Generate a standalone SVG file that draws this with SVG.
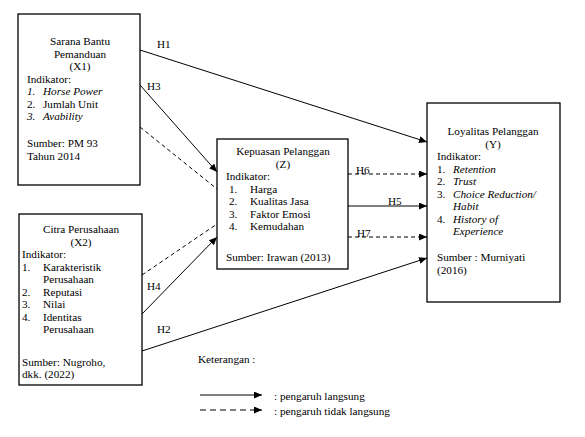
<svg xmlns="http://www.w3.org/2000/svg" width="585" height="437" viewBox="0 0 585 437">
<style>
text{font-family:"Liberation Serif","Times New Roman",serif;font-size:11.2px;fill:#000}
.c{text-anchor:middle}
.i{font-style:italic}
.box{fill:#fff;stroke:#000;stroke-width:1.3}
.ln{stroke:#000;stroke-width:1;fill:none}
.d{stroke-dasharray:4,3}
.ld{stroke-dasharray:6,4}
</style>
<defs>
<marker id="ah" markerUnits="userSpaceOnUse" markerWidth="9" markerHeight="7" refX="8" refY="3.5" orient="auto">
<path d="M0,0 L8,3.5 L0,7 Z" fill="#000"/>
</marker>
</defs>
<rect width="585" height="437" fill="#fff"/>

<g id="connectors">
<line class="ln" x1="140" y1="50" x2="427" y2="142" marker-end="url(#ah)"/>
<line class="ln" x1="140" y1="85" x2="217" y2="172" marker-end="url(#ah)"/>
<line class="ln d" x1="140" y1="127" x2="217" y2="189"/>
<line class="ln" x1="142" y1="314" x2="217" y2="237" marker-end="url(#ah)"/>
<line class="ln d" x1="142" y1="275" x2="217" y2="224"/>
<line class="ln" x1="142" y1="351" x2="427" y2="258" marker-end="url(#ah)"/>
<line class="ln d" x1="348" y1="174" x2="427" y2="174" marker-end="url(#ah)"/>
<line class="ln" x1="348" y1="206" x2="427" y2="206" marker-end="url(#ah)"/>
<line class="ln d" x1="348" y1="237" x2="427" y2="237" marker-end="url(#ah)"/>
<text x="157" y="48">H1</text>
<text x="147" y="90">H3</text>
<text x="147" y="290">H4</text>
<text x="157" y="333">H2</text>
<text x="356" y="174">H6</text>
<text x="388" y="205">H5</text>
<text x="357" y="237">H7</text>
</g>

<g id="x1">
<rect class="box" x="18" y="14" width="122" height="171"/>
<text class="c" x="80" y="45">Sarana Bantu</text>
<text class="c" x="80" y="57.5">Pemanduan</text>
<text class="c" x="80" y="70">(X1)</text>
<text x="27" y="82.5">Indikator:</text>
<text class="i" x="27" y="95">1.</text><text class="i" x="43" y="95">Horse Power</text>
<text x="27" y="107.5">2.</text><text x="43" y="107.5">Jumlah Unit</text>
<text class="i" x="27" y="120">3.</text><text class="i" x="43" y="120">Avability</text>
<text x="27" y="147">Sumber: PM 93</text>
<text x="27" y="159.5">Tahun 2014</text>
</g>

<g id="x2">
<rect class="box" x="19" y="214" width="123" height="171"/>
<text class="c" x="81" y="233">Citra Perusahaan</text>
<text class="c" x="81" y="245.5">(X2)</text>
<text x="22" y="258">Indikator:</text>
<text x="22" y="270.5">1.</text><text x="43" y="270.5">Karakteristik</text>
<text x="43" y="283">Perusahaan</text>
<text x="22" y="295.5">2.</text><text x="43" y="295.5">Reputasi</text>
<text x="22" y="308">3.</text><text x="43" y="308">Nilai</text>
<text x="22" y="320.5">4.</text><text x="43" y="320.5">Identitas</text>
<text x="43" y="333">Perusahaan</text>
<text x="22" y="365.5">Sumber: Nugroho,</text>
<text x="22" y="378">dkk. (2022)</text>
</g>

<g id="z">
<rect class="box" x="217" y="139" width="131" height="130"/>
<text class="c" x="283" y="155">Kepuasan Pelanggan</text>
<text class="c" x="283" y="167.5">(Z)</text>
<text x="226" y="180">Indikator:</text>
<text x="229" y="192.5">1.</text><text x="250" y="192.5">Harga</text>
<text x="229" y="205">2.</text><text x="250" y="205">Kualitas Jasa</text>
<text x="229" y="217.5">3.</text><text x="250" y="217.5">Faktor Emosi</text>
<text x="229" y="230">4.</text><text x="250" y="230">Kemudahan</text>
<text x="226" y="261">Sumber: Irawan  (2013)</text>
</g>

<g id="y">
<rect class="box" x="427" y="103" width="133" height="199"/>
<text class="c" x="493" y="135">Loyalitas Pelanggan</text>
<text class="c" x="493" y="147.5">(Y)</text>
<text x="437" y="160">Indikator:</text>
<text x="437" y="172.5">1.</text><text class="i" x="453" y="172.5">Retention</text>
<text x="437" y="185">2.</text><text class="i" x="453" y="185">Trust</text>
<text x="437" y="197.5">3.</text><text class="i" x="453" y="197.5">Choice Reduction/</text>
<text class="i" x="453" y="210">Habit</text>
<text x="437" y="222.5">4.</text><text class="i" x="453" y="222.5">History of</text>
<text class="i" x="453" y="235">Experience</text>
<text x="437" y="261">Sumber : Murniyati</text>
<text x="437" y="273.5">(2016)</text>
</g>

<g id="legend">
<text x="198" y="363">Keterangan :</text>
<line class="ln" x1="200" y1="395" x2="262" y2="395" marker-end="url(#ah)"/>
<text x="274" y="400">: pengaruh langsung</text>
<line class="ln ld" x1="200" y1="410" x2="262" y2="410" marker-end="url(#ah)"/>
<text x="274" y="415">: pengaruh tidak langsung</text>
</g>
</svg>
